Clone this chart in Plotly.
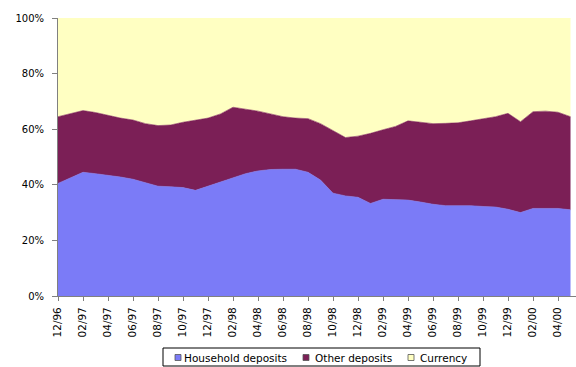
import plotly.graph_objects as go

# Monthly observations, Dec 1996 - May 2000 (share of total, %)
months = [
    "12/96", "01/97", "02/97", "03/97", "04/97", "05/97", "06/97", "07/97",
    "08/97", "09/97", "10/97", "11/97", "12/97", "01/98", "02/98", "03/98",
    "04/98", "05/98", "06/98", "07/98", "08/98", "09/98", "10/98", "11/98",
    "12/98", "01/99", "02/99", "03/99", "04/99", "05/99", "06/99", "07/99",
    "08/99", "09/99", "10/99", "11/99", "12/99", "01/00", "02/00", "03/00",
    "04/00", "05/00",
]

household = [
    40.5, 42.5, 44.5, 44.0, 43.5, 42.8, 42.0, 40.8, 39.5, 39.3, 39.0, 38.0,
    39.5, 41.0, 42.7, 44.0, 45.0, 45.5, 45.6, 45.6, 44.5, 41.7, 37.0, 36.0,
    35.5, 33.3, 34.8, 34.7, 34.5, 33.8, 33.0, 32.5, 32.5, 32.5, 32.2, 32.0,
    31.2, 30.0, 31.5, 31.5, 31.5, 31.0,
]

other = [
    24.0, 23.0, 22.2, 22.0, 21.5, 21.2, 21.3, 21.2, 21.8, 22.2, 23.5, 25.3,
    24.5, 24.5, 25.2, 23.2, 21.5, 20.0, 18.9, 18.4, 19.3, 20.3, 22.5, 21.0,
    22.0, 25.2, 25.0, 26.3, 28.5, 28.7, 29.0, 29.6, 29.8, 30.5, 31.6, 32.5,
    34.5, 32.7, 34.8, 35.0, 34.6, 33.5,
]

currency = [
    35.5, 34.5, 33.3, 34.0, 35.0, 36.0, 36.7, 38.0, 38.7, 38.5, 37.5, 36.7,
    36.0, 34.5, 32.1, 32.8, 33.5, 34.5, 35.5, 36.0, 36.2, 38.0, 40.5, 43.0,
    42.5, 41.5, 40.2, 39.0, 37.0, 37.5, 38.0, 37.9, 37.7, 37.0, 36.2, 35.5,
    34.3, 37.3, 33.7, 33.5, 33.9, 35.5,
]

y_ticks = [0, 20, 40, 60, 80, 100]
y_tick_labels = ["0%", "20%", "40%", "60%", "80%", "100%"]

series_names = ["Household deposits", "Other deposits", "Currency"]
series_colors = ["#7b7bf7", "#7b1f56", "#ffffc2"]
series_values = [household, other, currency]

x = list(range(len(months)))
tick_idx = x[::2]
tick_txt = months[::2]

W, H = 576, 367
M_L, M_R, M_T, M_B = 58, 0, 18, 71
PLOT_W = W - M_L - M_R
PLOT_H = H - M_T - M_B


def px_to_paper(px, py):
    """Convert page pixel coordinates to paper coordinates."""
    return (px - M_L) / PLOT_W, (H - M_B - py) / PLOT_H


fig = go.Figure()
for name, vals, col in zip(series_names, series_values, series_colors):
    fig.add_trace(go.Scatter(
        x=x, y=vals, name=name, mode="lines",
        stackgroup="one",
        line=dict(width=0.6, color=col),
        fillcolor=col,
        showlegend=False,
    ))

font_family = "DejaVu Sans, Liberation Sans, Arial, sans-serif"

# Boxed legend underneath the chart: small square swatches followed by text
shapes = []
annotations = []
bx0, by0 = px_to_paper(163, 348)
bx1, by1 = px_to_paper(480, 366)
shapes.append(dict(type="rect", xref="paper", yref="paper",
                   x0=bx0, y0=by1, x1=bx1, y1=by0,
                   line=dict(color="#000000", width=1), fillcolor="white"))
swatch_x = [175, 303, 408]
text_x = [182, 313, 418]
legend_cy = 357.5
for name, col, sx, tx in zip(series_names, series_colors, swatch_x, text_x):
    sx0, sy0 = px_to_paper(sx, legend_cy - 3)
    sx1, sy1 = px_to_paper(sx + 6, legend_cy + 3)
    shapes.append(dict(type="rect", xref="paper", yref="paper",
                       x0=sx0, y0=sy1, x1=sx1, y1=sy0,
                       line=dict(color="#555555", width=0.8), fillcolor=col))
    ax, ay = px_to_paper(tx, legend_cy)
    annotations.append(dict(text=name, xref="paper", yref="paper",
                            x=ax, y=ay, xanchor="left", yanchor="middle",
                            showarrow=False,
                            font=dict(size=10.5, family=font_family, color="#000000")))

fig.update_layout(
    width=W, height=H,
    margin=dict(l=M_L, r=M_R, t=M_T, b=M_B),
    paper_bgcolor="white",
    plot_bgcolor="white",
    font=dict(family=font_family, size=10, color="#000000"),
    showlegend=False,
    shapes=shapes,
    annotations=annotations,
    xaxis=dict(
        range=[0, 41.44],
        tickvals=tick_idx,
        ticktext=tick_txt,
        tickangle=-90,
        ticks="outside", ticklen=4, tickcolor="#808080",
        ticklabelstandoff=2,
        showline=True, linecolor="#808080", linewidth=1,
        showgrid=False, zeroline=False,
        tickfont=dict(size=10.5),
    ),
    yaxis=dict(
        range=[0, 100],
        tickvals=y_ticks,
        ticktext=y_tick_labels,
        ticks="outside", ticklen=5, tickcolor="#808080",
        ticklabelstandoff=6,
        showline=True, linecolor="#808080", linewidth=1,
        showgrid=False, zeroline=False,
        tickfont=dict(size=10),
    ),
)

fig.write_html("out.html")
